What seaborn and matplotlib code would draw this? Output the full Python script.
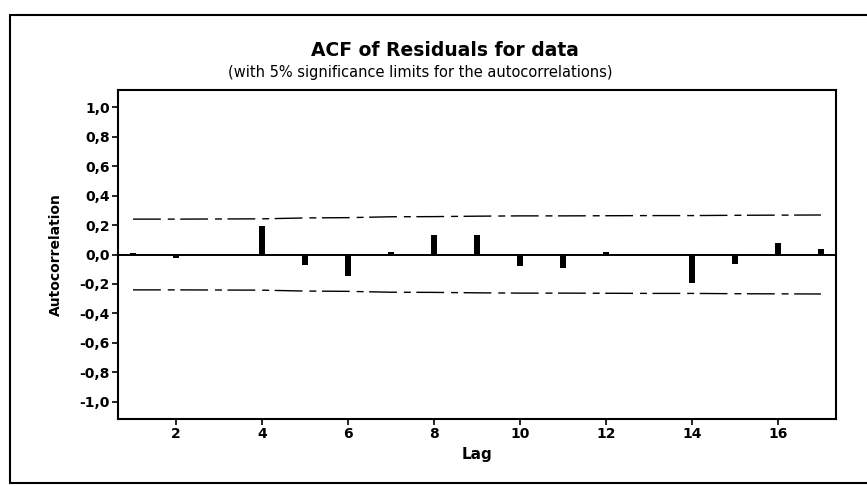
import matplotlib
matplotlib.use("Agg")
import matplotlib.pyplot as plt
import seaborn as sns
import pandas as pd
from matplotlib.lines import Line2D

# ---- data ----
lags = [1, 2, 3, 4, 5, 6, 7, 8, 9, 10, 11, 12, 13, 14, 15, 16, 17]
acf = [0.01, -0.025, 0.0, 0.19, -0.07, -0.145, 0.02, 0.135, 0.13,
       -0.08, -0.09, 0.015, 0.0, -0.19, -0.065, 0.075, 0.04]
limit = [0.240, 0.240, 0.241, 0.242, 0.248, 0.250, 0.256, 0.257, 0.260,
         0.262, 0.262, 0.263, 0.264, 0.264, 0.266, 0.267, 0.268]
ytick_vals = [1.0, 0.8, 0.6, 0.4, 0.2, 0.0, -0.2, -0.4, -0.6, -0.8, -1.0]
ytick_labels = ["1,0", "0,8", "0,6", "0,4", "0,2", "0,0", "-0,2", "-0,4",
                "-0,6", "-0,8", "-1,0"]
xtick_vals = [2, 4, 6, 8, 10, 12, 14, 16]
title = "ACF of Residuals for data"
subtitle = "(with 5% significance limits for the autocorrelations)"
xlabel = "Lag"
ylabel = "Autocorrelation"

df = pd.DataFrame({"Lag": lags, "ACF": acf})
upper_df = pd.DataFrame({"Lag": lags, "Limit": limit})
lower_df = pd.DataFrame({"Lag": lags, "Limit": [-v for v in limit]})

sns.set_style("white")
plt.rcParams["font.family"] = ["DejaVu Sans"]
plt.rcParams["text.color"] = "black"
plt.rcParams["axes.labelcolor"] = "black"
plt.rcParams["xtick.color"] = "black"
plt.rcParams["ytick.color"] = "black"

W, H = 867, 486
fig = plt.figure(figsize=(W / 100, H / 100), dpi=100)
ax = fig.add_axes([118 / W, 1 - 419 / H, (836 - 118) / W, (419 - 90) / H])

# zero reference line
ax.axhline(0, color="black", lw=1.4, zorder=2)

# bars
sns.barplot(data=df, x="Lag", y="ACF", native_scale=True, width=0.12,
            color="black", saturation=1, linewidth=0, edgecolor="black",
            errorbar=None, ax=ax, zorder=3)

# significance limits
n_before = len(ax.get_lines())
sns.lineplot(data=upper_df, x="Lag", y="Limit", color="black", lw=1.0,
             ax=ax, zorder=2)
sns.lineplot(data=lower_df, x="Lag", y="Limit", color="black", lw=1.0,
             ax=ax, zorder=2)
for ln in ax.get_lines()[n_before:]:
    ln.set_dashes((20, 5, 5, 4))

ax.set_xlim(0.65, 17.35)
ax.set_ylim(-1.116, 1.116)
ax.set_yticks(ytick_vals)
ax.set_yticklabels(ytick_labels, fontsize=10, fontweight="bold")
ax.set_xticks(xtick_vals)
ax.set_xticklabels([str(v) for v in xtick_vals], fontsize=10, fontweight="bold")
ax.tick_params(axis="both", direction="out", length=4, width=1.2,
               color="black", pad=2, left=True, bottom=True)
ax.set_xlabel(xlabel, fontsize=11, fontweight="bold", labelpad=4)
ax.set_ylabel(ylabel, fontsize=10, fontweight="bold", labelpad=12)
for s in ax.spines.values():
    s.set_color("black")
    s.set_linewidth(1.5)

fig.text(445 / W, 1 - 50 / H, title, ha="center", va="center",
         fontsize=13.5, fontweight="bold")
fig.text(420 / W, 1 - 72 / H, subtitle, ha="center", va="center",
         fontsize=10.5)

# outer frame of the scanned figure
fig.add_artist(Line2D([10 / W, 1.0], [1 - 15 / H, 1 - 15 / H],
                      transform=fig.transFigure, color="black", lw=1.5))
fig.add_artist(Line2D([10 / W, 10 / W], [1 - 15 / H, 1 - 483 / H],
                      transform=fig.transFigure, color="black", lw=1.5))
fig.add_artist(Line2D([10 / W, 1.0], [1 - 483 / H, 1 - 483 / H],
                      transform=fig.transFigure, color="black", lw=1.5))

fig.savefig("out.png", dpi=100)
